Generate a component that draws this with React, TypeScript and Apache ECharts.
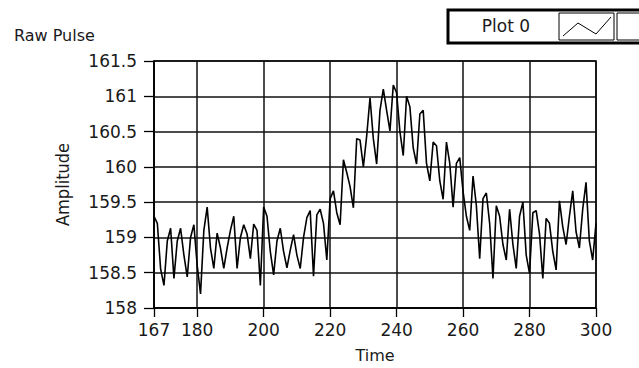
import React, { useEffect, useRef } from "react";
import * as echarts from "echarts";

const START_TIME = 167;
const amplitudes: number[] = [
  159.30, 159.20, 158.55, 158.32, 158.95, 159.13, 158.42, 158.95, 159.13, 158.75, // 167-176
  158.44, 159.00, 159.18, 158.60, 158.20, 159.10, 159.43, 158.85, 158.56, 159.06, // 177-186
  158.85, 158.56, 158.85, 159.10, 159.30, 158.56, 159.00, 159.18, 159.05, 158.70, // 187-196
  159.19, 159.10, 158.32, 159.43, 159.30, 158.80, 158.47, 158.95, 159.13, 158.80, // 197-206
  158.57, 158.82, 159.04, 158.75, 158.56, 159.00, 159.28, 159.38, 158.45, 159.32, // 207-216
  159.40, 159.20, 158.68, 159.55, 159.66, 159.35, 159.18, 160.10, 159.92, 159.72, // 217-226
  159.42, 160.40, 160.38, 160.00, 160.44, 160.98, 160.40, 160.04, 160.80, 161.10, // 227-236
  160.80, 160.51, 161.16, 161.05, 160.50, 160.16, 161.00, 160.85, 160.27, 160.04, // 237-246
  160.75, 160.80, 160.05, 159.80, 160.35, 160.30, 159.80, 159.54, 160.35, 160.05, // 247-256
  159.43, 160.05, 160.13, 159.65, 159.30, 159.10, 159.87, 159.45, 158.70, 159.55, // 257-266
  159.63, 159.20, 158.42, 159.45, 159.30, 158.90, 158.68, 159.40, 158.90, 158.56, // 267-276
  159.30, 159.50, 158.75, 158.49, 159.35, 159.38, 159.05, 158.42, 159.27, 159.20, // 277-286
  158.80, 158.54, 159.52, 159.15, 158.90, 159.30, 159.66, 159.08, 158.85, 159.40, // 287-296
  159.78, 158.95, 158.68, 159.20, // 297-300
];
const xTickValues: number[] = [167, 180, 200, 220, 240, 260, 280, 300];
const yMin = 158;
const yMax = 161.5;
const yStep = 0.5;
const xMin = 167;
const xMax = 300;
const seriesName = "Plot 0";
const chartTitle = "Raw Pulse";
const xName = "Time";
const yName = "Amplitude";

const FONT = "DejaVu Sans";

export default function App() {
  const ref = useRef<HTMLDivElement>(null);
  useEffect(() => {
    if (!ref.current) return;
    const chart = echarts.init(ref.current, null, { renderer: "svg" });
    const data = amplitudes.map((v, i) => [START_TIME + i, v]);
    chart.setOption({
      animation: false,
      backgroundColor: "#fff",
      title: {
        text: chartTitle,
        left: 9,
        top: 22,
        textStyle: { fontFamily: FONT, fontSize: 16, fontWeight: "normal", color: "#1a1a1a" },
      },
      grid: {
        left: 154,
        top: 61,
        width: 442,
        height: 249,
        show: true,
        borderColor: "#000",
        borderWidth: 1.5,
        backgroundColor: "#fff",
      },
      xAxis: {
        type: "value",
        min: xMin,
        max: xMax,
        name: xName,
        nameLocation: "middle",
        nameGap: 39,
        nameTextStyle: { fontFamily: FONT, fontSize: 16, color: "#1a1a1a" },
        axisLine: { show: true, lineStyle: { color: "#000", width: 1.5 } },
        axisTick: { show: true, length: 9, customValues: xTickValues, lineStyle: { color: "#000", width: 1.3 } },
        axisLabel: {
          customValues: xTickValues,
          fontFamily: FONT,
          fontSize: 17,
          color: "#1a1a1a",
          margin: 13,
          showMinLabel: true,
          showMaxLabel: true,
        },
        splitLine: { show: true, lineStyle: { color: "#111", width: 1.5 } },
      },
      yAxis: {
        type: "value",
        min: yMin,
        max: yMax,
        interval: yStep,
        name: yName,
        nameLocation: "middle",
        nameGap: 83,
        nameRotate: 90,
        nameTextStyle: { fontFamily: "DejaVu Sans Condensed", fontSize: 18, color: "#1a1a1a" },
        axisLine: { show: true, lineStyle: { color: "#000", width: 1.5 } },
        axisTick: { show: true, length: 10, lineStyle: { color: "#000", width: 1.3 } },
        axisLabel: {
          fontFamily: FONT,
          fontSize: 17,
          color: "#1a1a1a",
          margin: 17,
          formatter: (v: number) => String(v),
        },
        splitLine: { show: true, lineStyle: { color: "#111", width: 1.5 } },
      },
      graphic: [
        { type: "rect", shape: { x: 448, y: 10, width: 200, height: 33 }, style: { fill: "#fff", stroke: "#000", lineWidth: 3 }, z: 10 },
        { type: "rect", shape: { x: 559, y: 13, width: 55, height: 27 }, style: { fill: "#fff", stroke: "#000", lineWidth: 1 }, z: 11 },
        { type: "rect", shape: { x: 617, y: 13, width: 40, height: 27 }, style: { fill: "#fff", stroke: "#000", lineWidth: 1 }, z: 11 },
        { type: "polyline", shape: { points: [[563, 36], [578, 23], [596, 34], [611, 17]] }, style: { fill: "none", stroke: "#000", lineWidth: 1 }, z: 12 },
        { type: "text", style: { text: seriesName, x: 506, y: 26, textAlign: "center", textVerticalAlign: "middle", font: `17px "${FONT}"`, fill: "#1a1a1a" }, z: 12 },
      ],
      series: [
        {
          name: seriesName,
          type: "line",
          data,
          showSymbol: false,
          symbol: "none",
          lineStyle: { color: "#000", width: 1.6 },
          z: 5,
        },
      ],
    });
    return () => chart.dispose();
  }, []);
  return <div ref={ref} style={{ position: "fixed", left: 0, top: 0, width: 639, height: 368 }} />;
}
